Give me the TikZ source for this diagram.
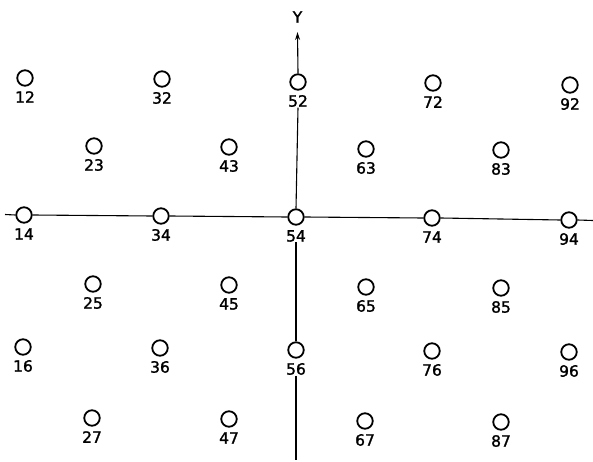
\documentclass[tikz,border=0pt]{standalone}
\usepackage{fontspec}
\setmainfont{DejaVu Sans}
\newfontfamily\lblfont[FakeBold=1.5]{DejaVu Sans}
\usetikzlibrary{arrows.meta}
\tikzset{
  site/.style={circle,draw,line width=1.8pt,minimum size=15.5pt,inner sep=0pt},
  lbl/.style={font=\lblfont\fontsize{15.5}{15.5}\selectfont,inner sep=0.5pt},
  axis/.style={line width=1.1pt}
}
\begin{document}
\begin{tikzpicture}[x=1pt,y=-1pt]
\useasboundingbox (0,0) rectangle (593,462);
\foreach \n/\x/\y in {
  12/25/78, 32/162/79, 52/298/82, 72/433/83, 92/570/85,
  23/94/146, 43/229/147, 63/366/149, 83/501/150,
  14/24/215, 34/161/216, 54/296/217, 74/432/218, 94/569/220,
  25/93/284, 45/229/285, 65/366/287, 85/501/288,
  16/23/347, 36/160/348, 56/296/350, 76/432/351, 96/569/352,
  27/92/418, 47/229/419, 67/365/421, 87/501/422}{
  \node[site] (n\n) at (\x,\y) {};
  \node[lbl] (l\n) at (\x,\y+19) {\n};
}
% horizontal axis
\coordinate (hl) at (5,214.5);
\coordinate (hr) at (593,220.5);
\draw[axis] (hl) -- (n14.west);
\draw[axis] (n14.east) -- (n34.west);
\draw[axis] (n34.east) -- (n54.west);
\draw[axis] (n54.east) -- (n74.west);
\draw[axis] (n74.east) -- (n94.west);
\draw[axis] (n94.east) -- (hr);
% vertical axis
\coordinate (ytip) at (297.5,32);
\coordinate (vb) at (296,460);
\node[lbl] (ylab) at (297.5,17) {Y};
\draw[axis,-{Stealth[length=8pt,width=5pt]}] (n52.north) -- (ytip);
\draw[axis] (l52.south) -- (n54.north);
\draw[axis] (l54.south) -- (n56.north);
\draw[axis] (l56.south) -- (vb);
\end{tikzpicture}
\end{document}
